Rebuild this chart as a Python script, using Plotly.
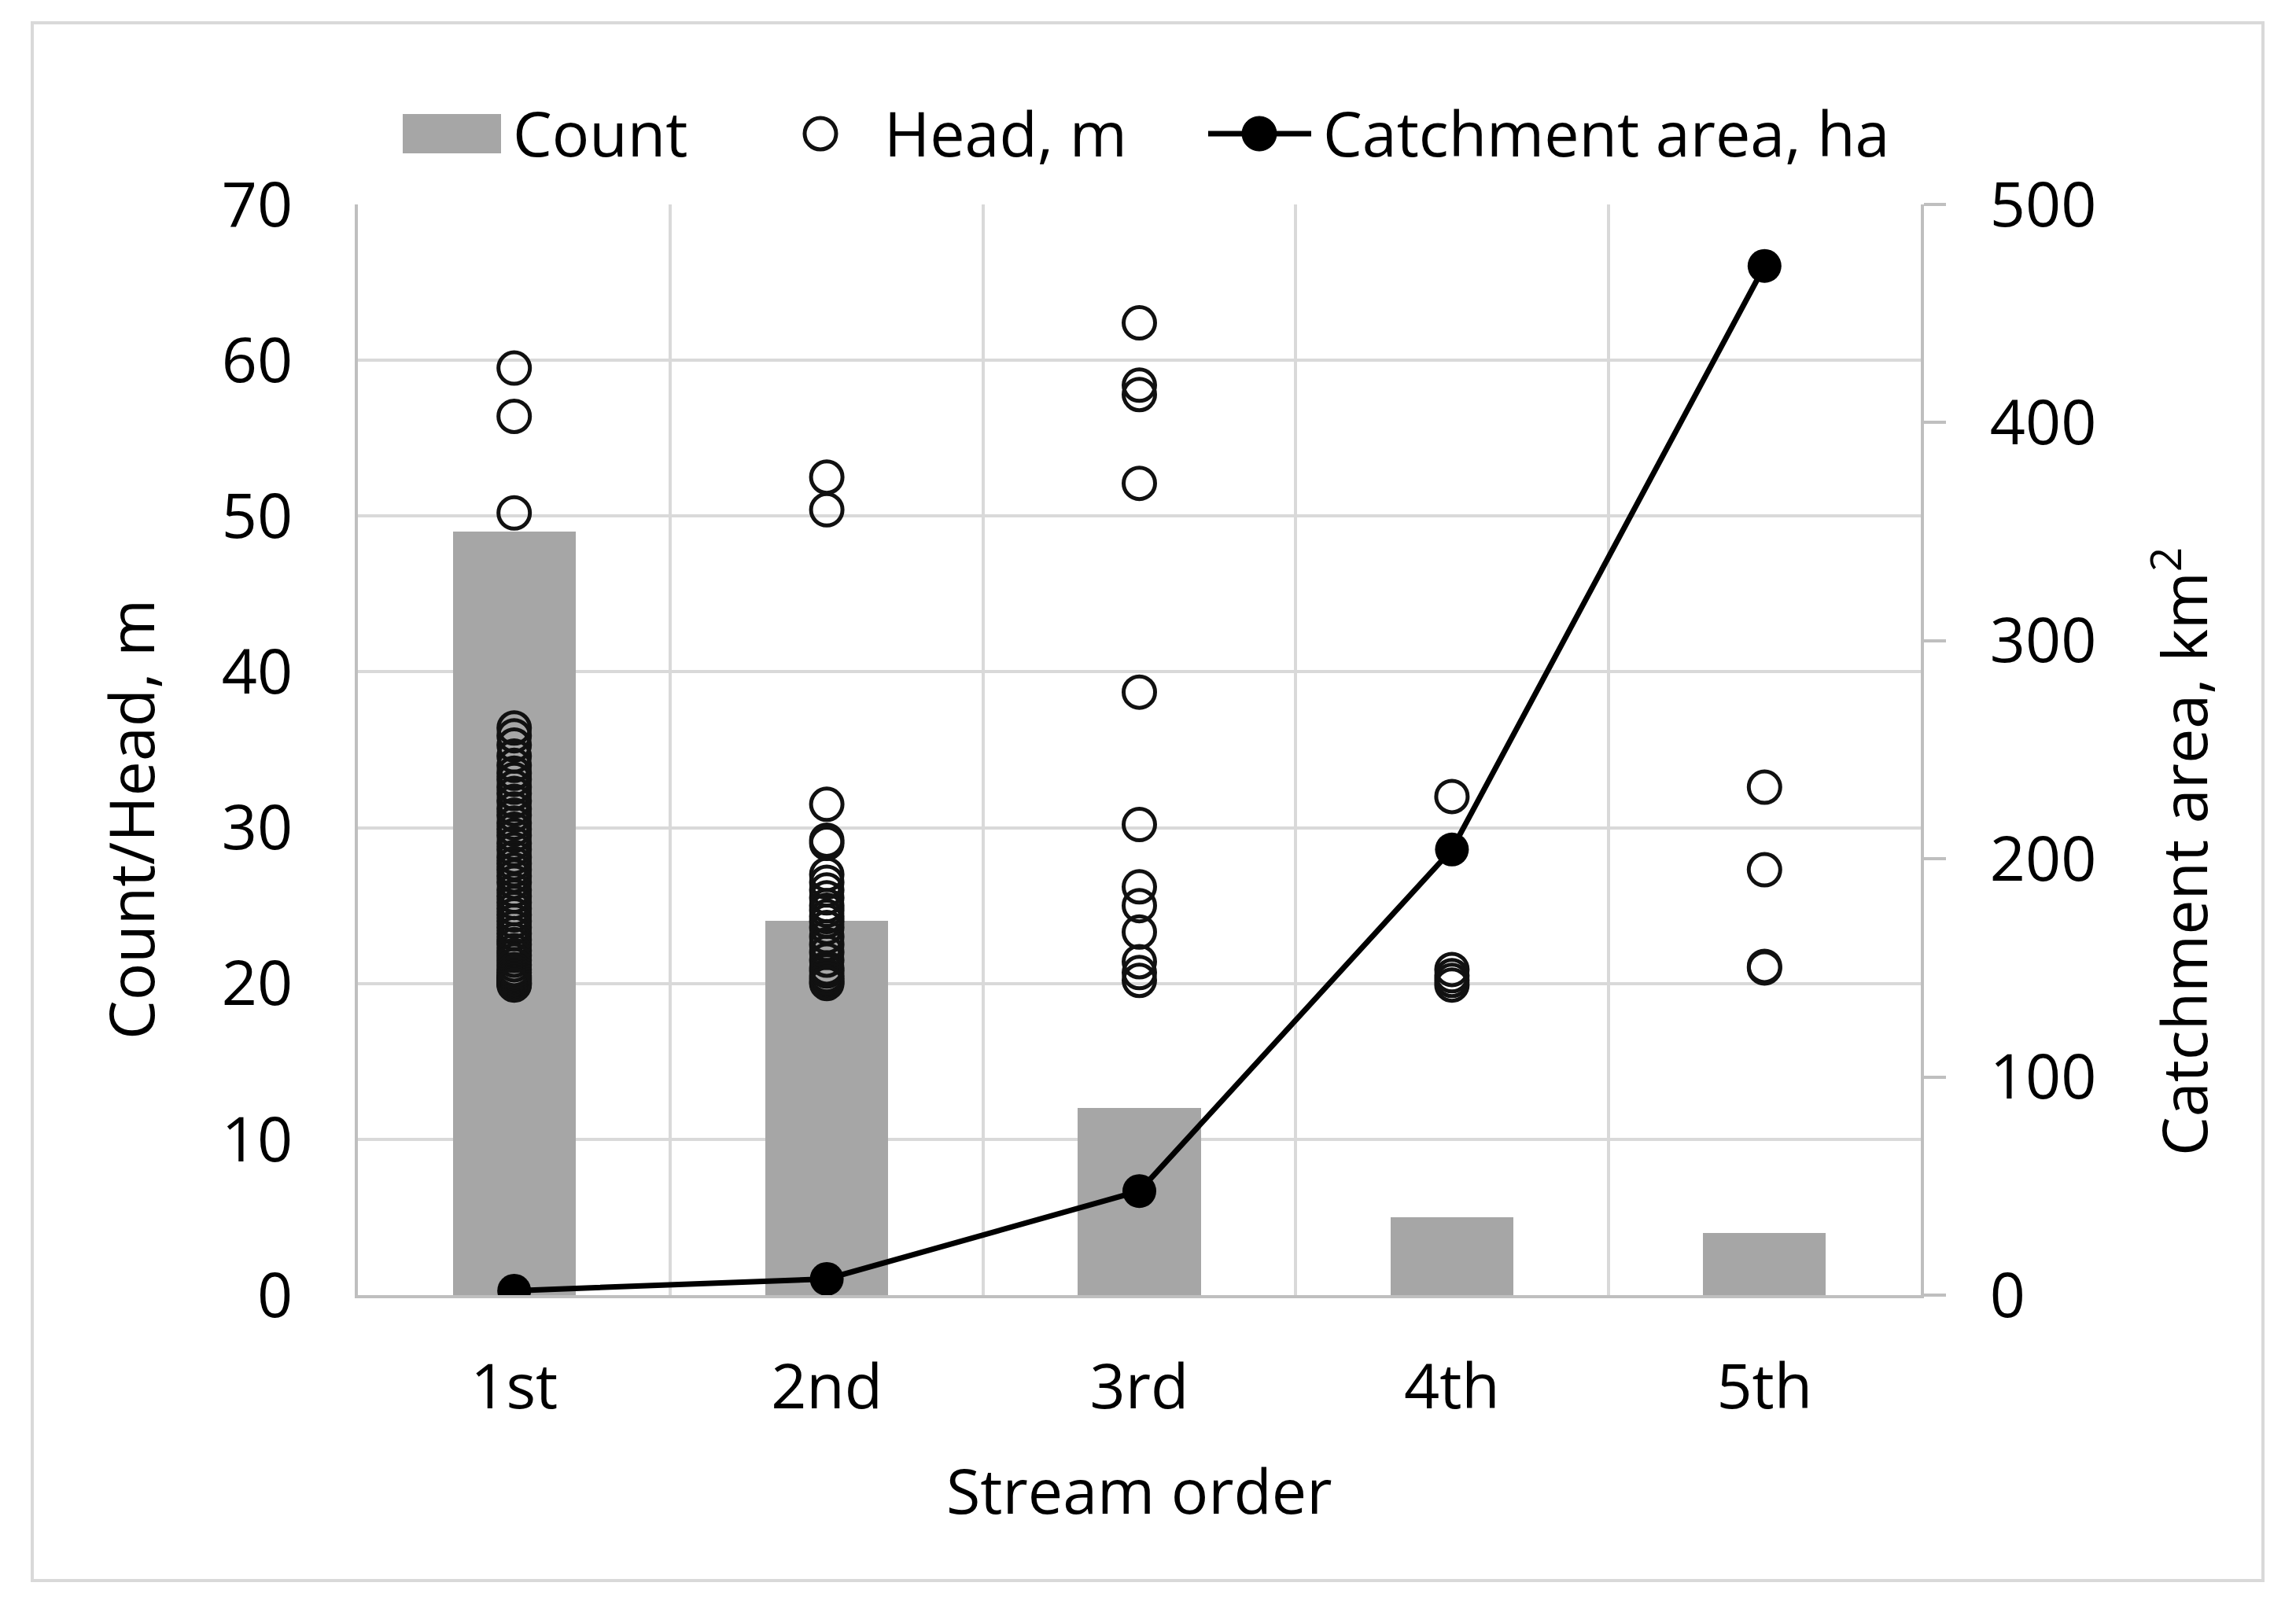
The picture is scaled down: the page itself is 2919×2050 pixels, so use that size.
import plotly.graph_objects as go

# ---------------- data ----------------
categories = ["1st", "2nd", "3rd", "4th", "5th"]
counts = [49, 24, 12, 5, 4]
catchment_km2 = [2.0, 7.4, 47.7, 204.3, 471.8]

head_1st = [59.5, 56.4, 50.2, 36.4, 35.9, 35.3, 34.6, 34.0, 33.5, 33.1, 32.6, 32.2,
            31.7, 31.2, 30.8, 30.3, 29.9, 29.5, 29.0, 28.6, 28.1, 27.7, 27.3, 26.9,
            26.5, 26.0, 25.6, 25.2, 24.8, 24.4, 24.0, 23.6, 23.2, 22.8, 22.5, 22.1,
            21.8, 21.5, 21.2, 20.9, 20.7, 20.5, 20.4, 20.3, 20.2, 20.1, 20.0, 20.0, 19.9]
head_2nd = [52.5, 50.4, 31.5, 29.2, 29.0, 27.0, 26.5, 26.0, 25.5, 25.0, 24.7, 24.3,
            24.0, 23.6, 23.0, 22.5, 22.0, 21.5, 21.0, 20.8, 20.5, 20.3, 20.1, 20.0]
head_3rd = [62.4, 58.4, 57.8, 52.1, 38.7, 30.2, 26.2, 25.0, 23.3, 21.4, 20.7, 20.2]
head_4th = [32.0, 20.9, 20.5, 20.2, 19.9]
head_5th = [32.6, 27.3, 21.1, 21.0]
heads = [head_1st, head_2nd, head_3rd, head_4th, head_5th]

left_ticks = [0, 10, 20, 30, 40, 50, 60, 70]
right_ticks = [0, 100, 200, 300, 400, 500]

# ---------------- layout constants (screen pixels) ----------------
OFF = 8  # page body margin
W, H = 2919 - 2 * OFF, 2050 - 2 * OFF
L, R, T, B = 455 - OFF, 2442 - OFF, 260 - OFF, 1647 - OFF
FONT = "Open Sans"
FS = 79


def px_x(p):
    return (p - OFF - L) / (R - L)


def px_y(p):
    return (B - (p - OFF)) / (B - T)


x_idx = list(range(len(categories)))
head_x, head_y = [], []
for i, vals in enumerate(heads):
    head_x += [x_idx[i]] * len(vals)
    head_y += vals

fig = go.Figure()
fig.add_trace(go.Bar(x=x_idx, y=counts, width=0.393, marker=dict(color="#a6a6a6", line=dict(width=0)),
                     name="Count"))
fig.add_trace(go.Scatter(x=head_x, y=head_y, mode="markers", name="Head, m",
                         marker=dict(symbol="circle-open", size=40, color="#111111", line=dict(width=5))))
fig.add_trace(go.Scatter(x=x_idx, y=catchment_km2, yaxis="y2", mode="lines+markers",
                         name="Catchment area, ha",
                         line=dict(color="black", width=7),
                         marker=dict(symbol="circle", size=43, color="black")))

grid = "#d9d9d9"
axis_c = "#bfbfbf"

fig.update_layout(
    width=W, height=H,
    margin=dict(l=L, r=W - R, t=T, b=H - B, pad=0),
    paper_bgcolor="white", plot_bgcolor="white",
    showlegend=False,
    font=dict(family=FONT, size=FS, color="black"),
    xaxis=dict(range=[-0.5, 4.5], tickmode="array", tickvals=x_idx, ticktext=categories,
               showgrid=False, zeroline=False, ticks="",
               showline=True, linecolor=axis_c, linewidth=4,
               tickfont=dict(size=FS), ticklabelstandoff=45,
               minor=dict(tickmode="array", tickvals=[0.5, 1.5, 2.5, 3.5], showgrid=True,
                          gridcolor=grid, gridwidth=4, ticks="")),
    yaxis=dict(range=[0, 70], tickmode="array", tickvals=left_ticks,
               showgrid=True, gridcolor=grid, gridwidth=4, zeroline=False,
               showline=True, linecolor=axis_c, linewidth=4, ticks="",
               tickfont=dict(size=FS), ticklabelstandoff=63),
    yaxis2=dict(range=[0, 500], overlaying="y", side="right", tickmode="array", tickvals=right_ticks,
                showgrid=False, zeroline=False, showline=True, linecolor=axis_c, linewidth=4,
                ticks="outside", ticklen=28, tickwidth=4, tickcolor=axis_c,
                tickfont=dict(size=FS), ticklabelstandoff=40),
    bargap=0,
)

shapes = []
# outer border
shapes.append(dict(type="rect", xref="paper", yref="paper",
                   x0=px_x(41), x1=px_x(2877), y0=px_y(2010), y1=px_y(29),
                   line=dict(color=grid, width=4), fillcolor="rgba(0,0,0,0)", layer="below"))
# legend symbols
ly = 170
shapes.append(dict(type="rect", xref="paper", yref="paper",
                   x0=px_x(512), x1=px_x(637), y0=px_y(ly + 25), y1=px_y(ly - 25),
                   line=dict(width=0), fillcolor="#a6a6a6"))
shapes.append(dict(type="circle", xref="paper", yref="paper",
                   x0=px_x(1043 - 20), x1=px_x(1043 + 20), y0=px_y(ly + 20), y1=px_y(ly - 20),
                   line=dict(color="#111111", width=5), fillcolor="rgba(0,0,0,0)"))
shapes.append(dict(type="line", xref="paper", yref="paper",
                   x0=px_x(1536), x1=px_x(1667), y0=px_y(ly), y1=px_y(ly),
                   line=dict(color="black", width=7)))
shapes.append(dict(type="circle", xref="paper", yref="paper",
                   x0=px_x(1601 - 22), x1=px_x(1601 + 22), y0=px_y(ly + 22), y1=px_y(ly - 22),
                   line=dict(color="black", width=1), fillcolor="black"))
fig.update_layout(shapes=shapes)

annotations = [
    dict(text="Count", x=px_x(650), y=px_y(ly - 2), xanchor="left", yanchor="middle"),
    dict(text="Head, m", x=px_x(1122), y=px_y(ly - 2), xanchor="left", yanchor="middle"),
    dict(text="Catchment area, ha", x=px_x(1680), y=px_y(ly - 2), xanchor="left", yanchor="middle"),
    dict(text="Stream order", x=px_x(1448), y=px_y(1894), xanchor="center", yanchor="middle"),
    dict(text="Count/Head, m", x=px_x(165), y=px_y(1042), xanchor="center", yanchor="middle",
         textangle=-90),
    dict(text="Catchment area, km<sup>2</sup>", x=px_x(2771), y=px_y(1083), xanchor="center",
         yanchor="middle", textangle=-90),
]
for a in annotations:
    a.update(xref="paper", yref="paper", showarrow=False, font=dict(family=FONT, size=FS, color="black"))
fig.update_layout(annotations=annotations)

fig.write_html("out.html")
